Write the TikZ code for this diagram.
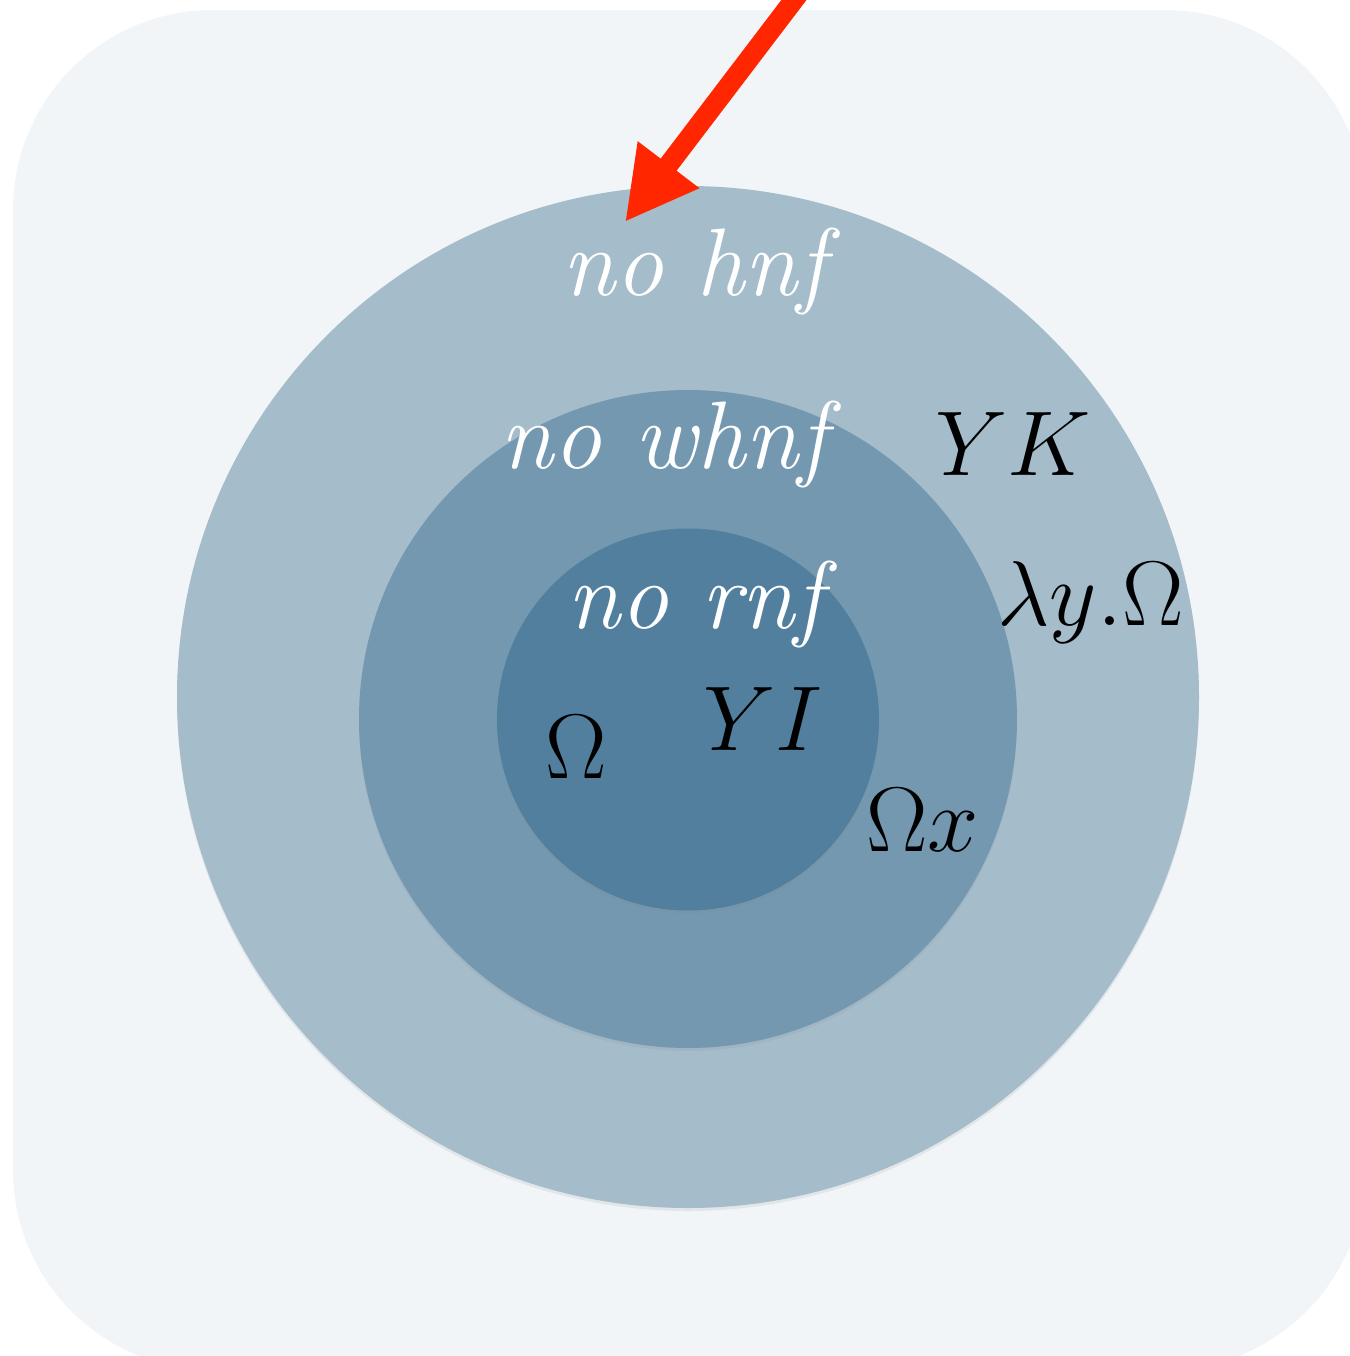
\documentclass[tikz,border=0pt]{standalone}
\usepackage{graphicx}
\usetikzlibrary{arrows.meta,shadows}
\definecolor{bgcol}{HTML}{F1F5F8}
\definecolor{ringA}{HTML}{A5BCCB}
\definecolor{ringB}{HTML}{7398B0}
\definecolor{ringC}{HTML}{517F9D}
\definecolor{arrowred}{HTML}{FF2600}
\newcommand{\bigmath}[1]{\scalebox{1.85}{\Huge$#1$}}
\begin{document}
\begin{tikzpicture}[x=0.5pt,y=-0.5pt,
  disc/.style={circle,inner sep=0pt,draw=none,drop shadow={opacity=0.12,shadow xshift=0pt,shadow yshift=-1.5pt}},
  wlabel/.style={text=white,inner sep=0pt,anchor=base west,font=\fontsize{48}{52}\selectfont\itshape},
  mlabel/.style={text=black,inner sep=0pt,anchor=base west}]
\useasboundingbox (0,0) rectangle (1350,1356);
\clip (0,0) rectangle (1350,1356);
\fill[bgcol,rounded corners=100pt] (13,10) rectangle (1365,1370);
\node[disc,fill=ringA,minimum size=511pt] (outer) at (688,697) {};
\node[disc,fill=ringB,minimum size=329pt] (middle) at (688,719) {};
\node[disc,fill=ringC,minimum size=191pt] (inner) at (688,719.5) {};
\node[wlabel] (hnf) at (562,295) {no hnf};
\node[wlabel] (whnf) at (500,468) {no whnf};
\node[wlabel] (rnf) at (567,628) {no rnf};
\node[mlabel] (yk) at (935,475) {\bigmath{YK}};
\node[mlabel] (lam) at (997,625) {\bigmath{\lambda y.\Omega}};
\node[mlabel] (om) at (545,778) {\bigmath{\Omega}};
\node[mlabel] (yi) at (703,750) {\bigmath{YI}};
\node[mlabel] (omx) at (866,851) {\bigmath{\Omega x}};
\coordinate (start) at (800,-8);
\coordinate (tip) at (625,222);
\draw[arrowred,line width=10pt,-{Triangle[length=36pt,width=36pt]}] (start) -- (tip);
\end{tikzpicture}
\end{document}
